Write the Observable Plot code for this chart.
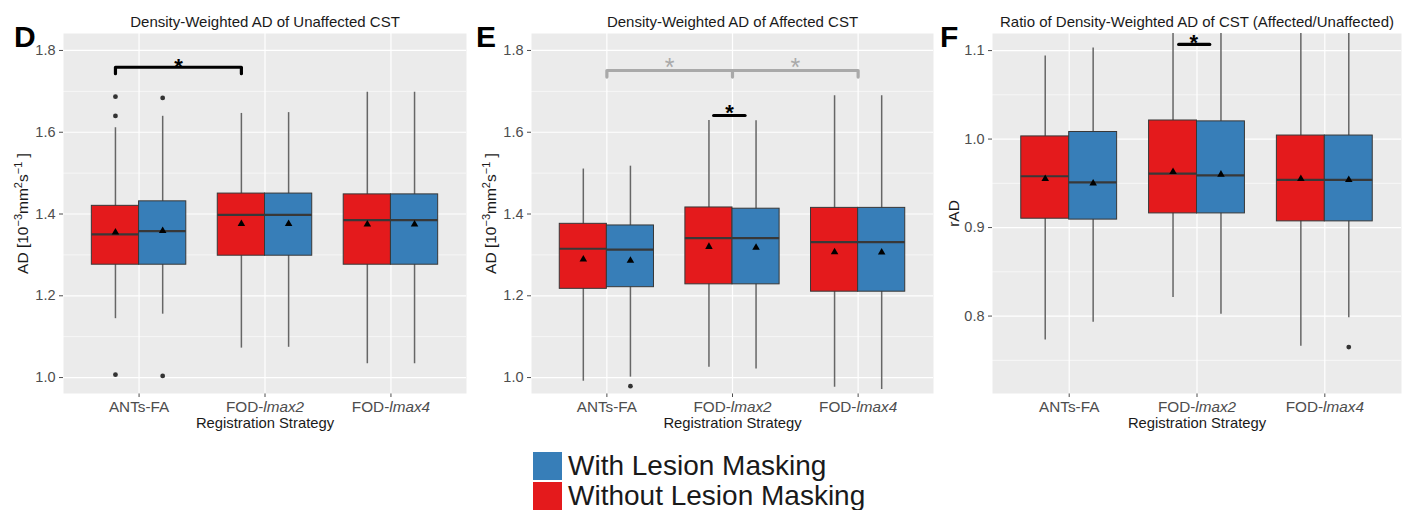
<!DOCTYPE html>
<html>
<head>
<meta charset="utf-8">
<script src="https://cdn.jsdelivr.net/npm/d3@7"></script>
<script src="https://cdn.jsdelivr.net/npm/@observablehq/plot@0.6"></script>
<style>
  html, body { margin: 0; padding: 0; background: #fff; }
  #wrap { position: relative; width: 1408px; height: 510px; overflow: hidden; font-family: "Liberation Sans", Arial, sans-serif; }
  .panel { position: absolute; top: 0; }
  .letter { position: absolute; font-weight: bold; font-size: 30px; color: #000; line-height: 1; }
  .legend { position: absolute; left: 533px; top: 451px; }
  .legend .row { display: flex; align-items: center; height: 30px; }
  .legend .sw { width: 29px; height: 28px; margin-right: 6px; }
  .legend .lab { font-size: 28px; color: #1a1a1a; line-height: 28px; }
</style>
</head>
<body>
<div id="wrap"></div>
<script>
// ---------- data ----------
const categories = ["ANTs-FA", "FOD-lmax2", "FOD-lmax4"];
const groups = ["Without Lesion Masking", "With Lesion Masking"];
const groupColors = ["#E41A1C", "#377EB8"];
const xAxisTitle = "Registration Strategy";
// y label of D and E: [text, isSuperscript]
const adLabelParts = [["AD [10", 0], ["\u22123", 1], ["mm", 0], ["2", 1], ["s", 0], ["\u22121", 1], [" ]", 0]];
const rLabelParts = [["rAD", 0]];

// rows: [category, group (0 = without, 1 = with), lower whisker, Q1, median, Q3, upper whisker, mean]
const statsD = [
  ["ANTs-FA",   0, 1.144, 1.276, 1.350, 1.420, 1.611, 1.355],
  ["ANTs-FA",   1, 1.155, 1.276, 1.358, 1.431, 1.639, 1.359],
  ["FOD-lmax2", 0, 1.072, 1.298, 1.398, 1.450, 1.646, 1.376],
  ["FOD-lmax2", 1, 1.074, 1.298, 1.398, 1.450, 1.648, 1.376],
  ["FOD-lmax4", 0, 1.034, 1.276, 1.385, 1.448, 1.698, 1.375],
  ["FOD-lmax4", 1, 1.034, 1.276, 1.385, 1.448, 1.698, 1.375]
];
const outliersD = [
  ["ANTs-FA", 0, 1.687], ["ANTs-FA", 0, 1.640], ["ANTs-FA", 0, 1.007],
  ["ANTs-FA", 1, 1.684], ["ANTs-FA", 1, 1.004]
];
const statsE = [
  ["ANTs-FA",   0, 0.991, 1.217, 1.315, 1.376, 1.510, 1.289],
  ["ANTs-FA",   1, 1.001, 1.221, 1.313, 1.372, 1.517, 1.286],
  ["FOD-lmax2", 0, 1.025, 1.228, 1.341, 1.416, 1.629, 1.320],
  ["FOD-lmax2", 1, 1.021, 1.228, 1.341, 1.413, 1.628, 1.318],
  ["FOD-lmax4", 0, 0.976, 1.210, 1.331, 1.415, 1.689, 1.307],
  ["FOD-lmax4", 1, 0.971, 1.210, 1.331, 1.415, 1.689, 1.306]
];
const outliersE = [["ANTs-FA", 1, 0.979]];
const statsF = [
  ["ANTs-FA",   0, 0.773, 0.910, 0.958, 1.003, 1.094, 0.955],
  ["ANTs-FA",   1, 0.793, 0.909, 0.951, 1.008, 1.103, 0.950],
  ["FOD-lmax2", 0, 0.821, 0.916, 0.961, 1.021, 1.140, 0.963],
  ["FOD-lmax2", 1, 0.802, 0.916, 0.959, 1.020, 1.140, 0.960],
  ["FOD-lmax4", 0, 0.766, 0.907, 0.954, 1.004, 1.130, 0.955],
  ["FOD-lmax4", 1, 0.798, 0.907, 0.954, 1.004, 1.130, 0.954]
];
const outliersF = [["FOD-lmax4", 1, 0.765]];

// significance annotations (x in category units, y in data units)
const bracketD = [[0.8125, 1.743], [0.8125, 1.759], [1.8125, 1.759], [1.8125, 1.743]];
const starsD = [[1.3125, 1.759]];
const bracketE = [[1, 1.735], [1, 1.751], [3, 1.751], [3, 1.735]];
const bracketEMid = [[2, 1.751], [2, 1.735]];
const starsEGray = [[1.5, 1.758], [2.5, 1.758]];
const barE = [[1.85, 1.641], [2.10, 1.641]];
const starsE = [[1.976, 1.648]];
const barF = [[1.857, 1.107], [2.10, 1.107]];
const starsF = [[1.974, 1.109]];

const panels = [
  { letter: "D", title: "Density-Weighted AD of Unaffected CST", yLabel: adLabelParts,
    stats: statsD, outliers: outliersD, yDomain: [0.961, 1.8415], yTicks: [1.0, 1.2, 1.4, 1.6, 1.8], yMinor: [1.1, 1.3, 1.5, 1.7],
    left: 0, width: 470, marginLeft: 63, marginRight: 4, labelDx: -40, letterX: 14 },
  { letter: "E", title: "Density-Weighted AD of Affected CST", yLabel: adLabelParts,
    stats: statsE, outliers: outliersE, yDomain: [0.961, 1.8415], yTicks: [1.0, 1.2, 1.4, 1.6, 1.8], yMinor: [1.1, 1.3, 1.5, 1.7],
    left: 470, width: 470, marginLeft: 61, marginRight: 7, labelDx: -40, letterX: 476 },
  { letter: "F", title: "Ratio of Density-Weighted AD of CST (Affected/Unaffected)", yLabel: rLabelParts,
    stats: statsF, outliers: outliersF, yDomain: [0.7125, 1.1193], yTicks: [0.8, 0.9, 1.0, 1.1], yMinor: [0.75, 0.85, 0.95, 1.05],
    left: 936, width: 472, marginLeft: 56, marginRight: 7, labelDx: -38, letterX: 940 }
];

const FONT = "'Liberation Sans', Arial, sans-serif";
const dodge = 0.1875, half = 0.1875;
const xPos = (cat, g) => categories.indexOf(cat) + 1 + (g === 0 ? -dodge : dodge);
const SVGNS = "http://www.w3.org/2000/svg";

function annotations(letter) {
  const blk = { stroke: "#000", strokeWidth: 3.2 };
  const star = (pts, fill, weight, size) => Plot.text(pts, { x: d => d[0], y: d => d[1], text: () => "*", fontSize: size, fontWeight: weight, fill, lineAnchor: "middle" });
  if (letter === "D") return [Plot.line(bracketD, { x: d => d[0], y: d => d[1], ...blk }), star(starsD, "#000", "bold", 22)];
  if (letter === "E") return [
    Plot.line(bracketE, { x: d => d[0], y: d => d[1], stroke: "#A9A9A9", strokeWidth: 3.2 }),
    Plot.line(bracketEMid, { x: d => d[0], y: d => d[1], stroke: "#A9A9A9", strokeWidth: 3.2 }),
    star(starsEGray, "#A9A9A9", "normal", 25),
    Plot.line(barE, { x: d => d[0], y: d => d[1], ...blk }),
    star(starsE, "#000", "bold", 22)
  ];
  return [Plot.line(barF, { x: d => d[0], y: d => d[1], ...blk }), star(starsF, "#000", "bold", 22)];
}

const wrap = document.getElementById("wrap");
for (const p of panels) {
  const boxes = p.stats.map(r => ({
    cat: r[0], group: groups[r[1]], x: xPos(r[0], r[1]),
    xl: xPos(r[0], r[1]) - half, xr: xPos(r[0], r[1]) + half,
    lo: r[2], q1: r[3], med: r[4], q3: r[5], hi: r[6], mean: r[7]
  }));
  const outs = p.outliers.map(r => ({ x: xPos(r[0], r[1]), v: r[2] }));
  const yLabelText = p.yLabel.map(d => d[0]).join("");
  const yTickTexts = p.yTicks.map(d3.format(".1f"));
  const chart = Plot.plot({
    width: p.width, height: 440,
    marginLeft: p.marginLeft, marginRight: p.marginRight, marginTop: 33, marginBottom: 47,
    style: { fontFamily: FONT, fontSize: "14.5px", color: "#4d4d4d", background: "transparent", overflow: "visible" },
    x: { domain: [0.4, 3.6], ticks: [1, 2, 3], tickFormat: i => categories[i - 1], tickSize: 4, tickPadding: 3.5, label: null },
    y: { domain: p.yDomain, ticks: p.yTicks, tickFormat: d3.format(".1f"), tickSize: 4, tickPadding: 4, label: null },
    color: { domain: groups, range: groupColors },
    marks: [
      Plot.frame({ fill: "#EBEBEB", stroke: "none" }),
      Plot.ruleY(p.yMinor, { stroke: "#fff", strokeWidth: 0.6 }),
      Plot.ruleY(p.yTicks, { stroke: "#fff", strokeWidth: 1.2 }),
      Plot.ruleX([1, 2, 3], { stroke: "#fff", strokeWidth: 1.2 }),
      Plot.ruleX(boxes, { x: "x", y1: "lo", y2: "hi", stroke: "#666", strokeWidth: 1.5, clip: true }),
      Plot.rect(boxes, { x1: "xl", x2: "xr", y1: "q1", y2: "q3", fill: "group", stroke: "#383838", strokeWidth: 1 }),
      Plot.ruleY(boxes, { x1: "xl", x2: "xr", y: "med", stroke: "#383838", strokeWidth: 2.2 }),
      Plot.dot(boxes, { x: "x", y: "mean", symbol: "triangle", r: 2.8, fill: "#000", stroke: "none" }),
      Plot.dot(outs, { x: "x", y: "v", r: 2.4, fill: "#333", stroke: "none" }),
      ...annotations(p.letter),
      Plot.text([p.title], { text: d => d, frameAnchor: "top", dy: -11.8, lineAnchor: "middle", textAnchor: "middle", fill: "#1a1a1a", fontSize: 15 }),
      Plot.text([yLabelText], { text: d => d, frameAnchor: "left", dx: p.labelDx, rotate: -90, lineAnchor: "middle", textAnchor: "middle", fill: "#1a1a1a", fontSize: 15.5 }),
      Plot.text([xAxisTitle], { text: d => d, frameAnchor: "bottom", dy: 29.3, lineAnchor: "middle", textAnchor: "middle", fill: "#1a1a1a", fontSize: 14.8 })
    ]
  });
  chart.querySelectorAll("text").forEach(t => {
    if (t.children.length) return;
    const s = t.textContent;
    // tick label sizes
    if (categories.includes(s)) t.style.fontSize = "15.3px";
    if (yTickTexts.includes(s)) t.style.fontSize = "14.5px";
    // italicise the lmax part of tick labels
    const m = /^FOD-(lmax\d)$/.exec(s);
    if (m) {
      t.textContent = "FOD-";
      const ts = document.createElementNS(SVGNS, "tspan");
      ts.setAttribute("font-style", "italic");
      ts.textContent = m[1];
      t.appendChild(ts);
    }
    // superscripts in the y label
    if (s === yLabelText && p.yLabel.length > 1) {
      t.textContent = "";
      let raised = false;
      for (const [part, sup] of p.yLabel) {
        const ts = document.createElementNS(SVGNS, "tspan");
        ts.textContent = part;
        if (sup) { ts.setAttribute("font-size", "11px"); if (!raised) ts.setAttribute("dy", "-6"); raised = true; }
        else { if (raised) ts.setAttribute("dy", "6"); raised = false; }
        t.appendChild(ts);
      }
    }
  });
  chart.classList.add("panel");
  chart.style.left = p.left + "px";
  wrap.appendChild(chart);
  const L = document.createElement("div");
  L.className = "letter";
  L.style.left = p.letterX + "px";
  L.style.top = "22px";
  L.textContent = p.letter;
  wrap.appendChild(L);
}

// legend
const leg = document.createElement("div");
leg.className = "legend";
[1, 0].forEach(i => {
  const row = document.createElement("div");
  row.className = "row";
  row.innerHTML = `<div class="sw" style="background:${groupColors[i]}"></div><div class="lab">${groups[i]}</div>`;
  leg.appendChild(row);
});
wrap.appendChild(leg);
</script>
</body>
</html>
